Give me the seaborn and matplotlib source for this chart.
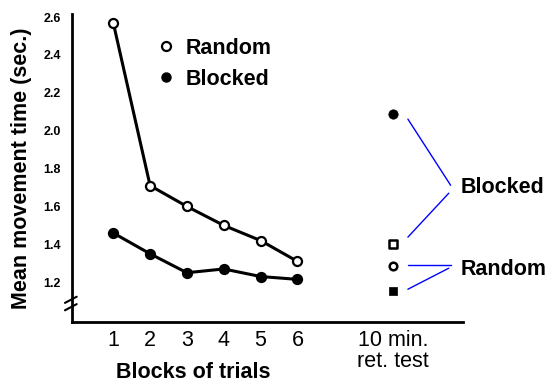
import matplotlib
matplotlib.use("Agg")
import matplotlib.pyplot as plt
from matplotlib.lines import Line2D
import seaborn as sns
import pandas as pd

# acquisition blocks
blocks = [1, 2, 3, 4, 5, 6]
random_mt = [2.57, 1.71, 1.60, 1.50, 1.42, 1.31]
blocked_mt = [1.46, 1.35, 1.25, 1.27, 1.23, 1.215]

# 10 min retention test
ret_pos = 8.6
ret_blocked_filled = 2.09
ret_blocked_open = 1.40
ret_random_open = 1.285
ret_random_filled = 1.155

xtick_pos = [1, 2, 3, 4, 5, 6, 8.6]
xtick_labels = ["1", "2", "3", "4", "5", "6", "10 min.\nret. test"]
ytick_vals = [1.2, 1.4, 1.6, 1.8, 2.0, 2.2, 2.4, 2.6]

df = pd.DataFrame({
    "block": blocks * 2,
    "mt": random_mt + blocked_mt,
    "group": ["Random"] * 6 + ["Blocked"] * 6,
})

sns.set_style("white")
plt.rcParams["font.family"] = ["Liberation Sans", "DejaVu Sans"]
plt.rcParams["text.color"] = "black"
plt.rcParams["axes.labelcolor"] = "black"
plt.rcParams["xtick.color"] = "black"
plt.rcParams["ytick.color"] = "black"

fig = plt.figure(figsize=(5.56, 3.84), dpi=100)
ax = fig.add_axes([0.1295, 0.1615, 0.7035, 0.802])

sns.lineplot(data=df, x="block", y="mt", hue="group", style="group",
             palette={"Random": "black", "Blocked": "black"},
             markers={"Random": "o", "Blocked": "o"}, dashes=False,
             linewidth=2.2, markersize=6.5, legend=False, ax=ax)
# face colours of markers
for line, face in zip(ax.lines, ["white", "black"]):
    line.set_markerfacecolor(face)
    line.set_markeredgecolor("black")
    line.set_markeredgewidth(1.6)

ret = pd.DataFrame({
    "x": [ret_pos] * 4,
    "y": [ret_blocked_filled, ret_blocked_open, ret_random_open, ret_random_filled],
    "kind": ["bf", "bo", "ro", "rf"],
})
sns.scatterplot(data=ret[ret.kind == "bf"], x="x", y="y", marker="o", s=45,
                color="black", edgecolor="black", ax=ax, legend=False)
sns.scatterplot(data=ret[ret.kind == "bo"], x="x", y="y", marker="s", s=36,
                facecolor="white", edgecolor="black", linewidth=1.8, ax=ax, legend=False)
sns.scatterplot(data=ret[ret.kind == "ro"], x="x", y="y", marker="o", s=30,
                facecolor="white", edgecolor="black", linewidth=1.8, ax=ax, legend=False)
sns.scatterplot(data=ret[ret.kind == "rf"], x="x", y="y", marker="s", s=40,
                color="black", edgecolor="black", ax=ax, legend=False)

ax.set_xlim(-0.12, 10.5)
ax.set_ylim(0.99, 2.616)
ax.set_xticks(xtick_pos)
ax.set_xticklabels(xtick_labels, fontsize=15.5, linespacing=0.95)
ax.set_yticks(ytick_vals)
ax.set_yticklabels([f"{v:.1f}" for v in ytick_vals], fontsize=9, fontweight="bold")
ax.tick_params(axis="both", direction="in", length=5, width=1.5, colors="black")
ax.tick_params(axis="x", pad=6)
ax.tick_params(axis="y", pad=8)

for side in ["top", "right"]:
    ax.spines[side].set_visible(False)
for side in ["left", "bottom"]:
    ax.spines[side].set_linewidth(2)
    ax.spines[side].set_color("black")

ax.set_xlabel("Blocks of trials", fontsize=15.5, fontweight="bold")
ax.xaxis.set_label_coords(0.31, -0.13)
ax.set_ylabel("Mean movement time (sec.)", fontsize=15.5, fontweight="bold")
ax.yaxis.set_label_coords(-0.102, 0.5)

# axis break on the y axis
kw = dict(transform=ax.transAxes, color="black", lw=1.5, clip_on=False)
ax.plot([0, 0], [0.045, 0.075], color="white", lw=4, transform=ax.transAxes, clip_on=False)
ax.plot([-0.018, 0.012], [0.038, 0.058], **kw)
ax.plot([-0.018, 0.012], [0.062, 0.082], **kw)

# legend
handles = [
    Line2D([], [], marker="o", ls="none", mfc="white", mec="black", mew=1.6, ms=6.5),
    Line2D([], [], marker="o", ls="none", mfc="black", mec="black", ms=6.5),
]
ax.legend(handles, ["Random", "Blocked"], loc="upper left", bbox_to_anchor=(0.175, 0.985),
          frameon=False, handlelength=0.6, handletextpad=0.6, labelspacing=0.45,
          prop={"size": 15.5, "weight": "bold"})

# bracket labels for retention test
bx0, bx1 = 9.0, 10.16
ax.plot([bx0, bx1], [2.061, 1.712], color="blue", lw=1)
ax.plot([bx1 - 0.05, bx0], [1.670, 1.438], color="blue", lw=1)
ax.text(10.42, 1.70, "Blocked", fontsize=15.5, fontweight="bold", va="center")
ax.plot([bx0, bx1], [1.290, 1.290], color="blue", lw=1)
ax.plot([bx0, bx1 - 0.05], [1.163, 1.274], color="blue", lw=1)
ax.text(10.42, 1.266, "Random", fontsize=15.5, fontweight="bold", va="center")

fig.savefig("out.png", dpi=100)
